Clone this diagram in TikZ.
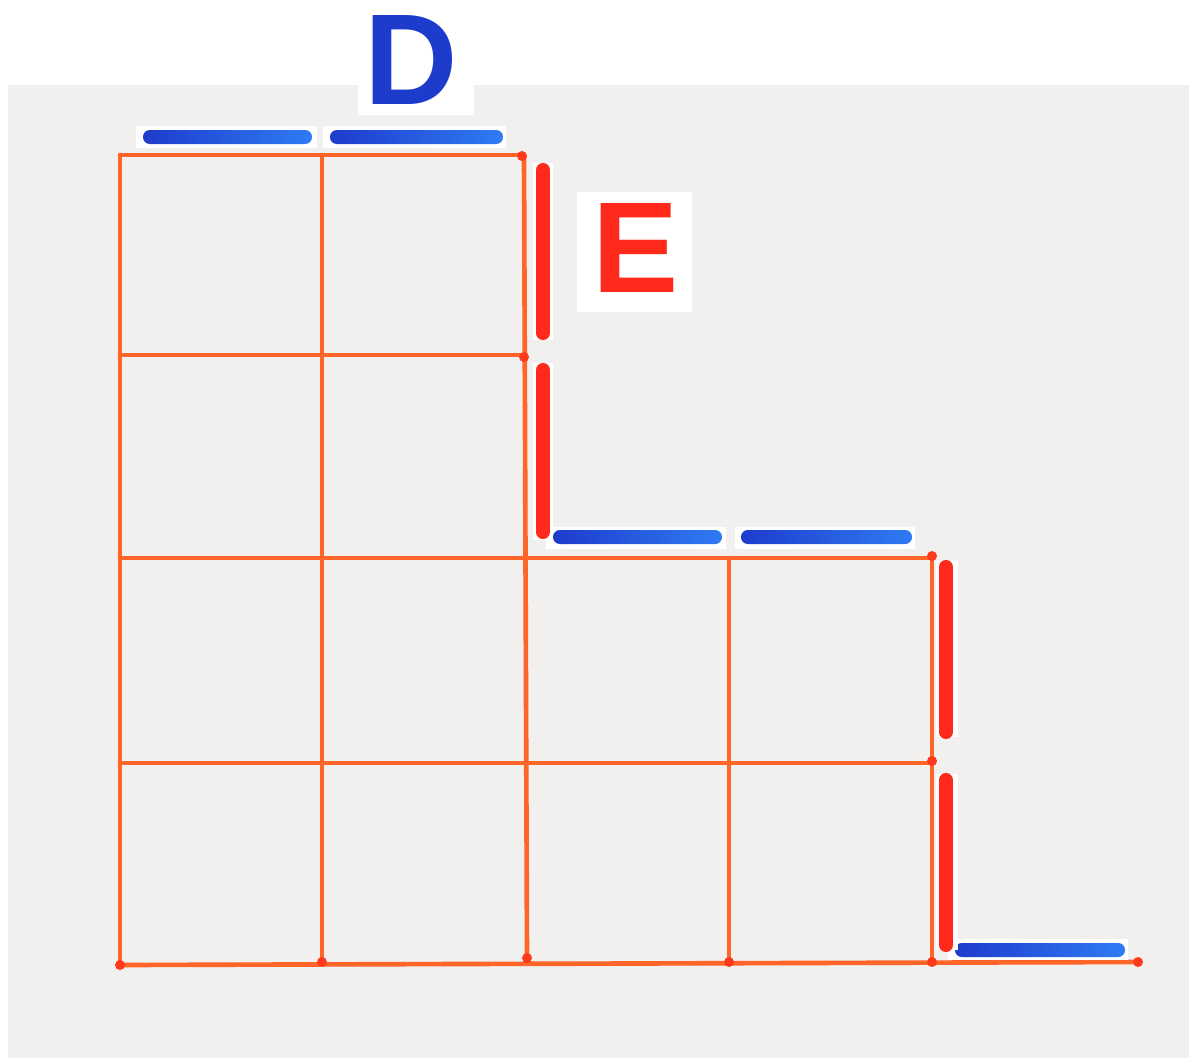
\documentclass[tikz,border=0pt]{standalone}
\usepackage{fontspec}
\setsansfont{Liberation Sans}
\usetikzlibrary{positioning}

\definecolor{paper}{HTML}{F1F0EE}
\definecolor{gridorange}{HTML}{FF6428}
\definecolor{dotred}{HTML}{FF3A1A}
\definecolor{markblue}{HTML}{1E3CCB}
\definecolor{markbluelight}{HTML}{2F7BF5}
\definecolor{markred}{HTML}{FF2A1C}

\tikzset{
  gridline/.style={gridorange, line width=3.3pt, line cap=round},
  bluebar/.style={left color=markblue, right color=markbluelight, rounded corners=1.7mm},
  redbar/.style={markred, line width=10pt, line cap=round},
  patch/.style={fill=white, draw=none},
  letter/.style={font=\sffamily\bfseries\fontsize{92}{92}\selectfont, inner sep=0pt}
}

\begin{document}
\begin{tikzpicture}[x=0.025cm, y=-0.025cm]
  \useasboundingbox (0,0) rectangle (1189,1061);
  \fill[white] (0,0) rectangle (1189,1061);
  \fill[paper] (8,85) rectangle (1189,1058);

  % grid
  \draw[gridline] (120,155) -- (522,155);
  \draw[gridline] (120,355) -- (525,355);
  \draw[gridline] (120,558) -- (932,558);
  \draw[gridline] (120,763) -- (932,763);
  \draw[gridline] (120,965) -- (1138,962);
  \draw[gridline] (120,155) -- (120,965);
  \draw[gridline] (322,155) -- (322,963);
  \draw[gridline] (524,155) -- (527,960);
  \draw[gridline] (729,558) -- (729,963);
  \draw[gridline] (932,558) -- (932,963);
  \foreach \x/\y in {522/156, 524/357, 932/556, 932/761, 932/962, 1138/962, 322/962, 527/958, 729/962, 120/965}
    \fill[dotred] (\x,\y) circle (5);

  % blue segments
  \fill[patch] (136,126) rectangle (317,148);
  \fill[patch] (323,126) rectangle (506,148);
  \shade[bluebar] (143,130) rectangle (312,144);
  \shade[bluebar] (330,130) rectangle (503,144);
  \fill[patch] (546,527) rectangle (726,549);
  \fill[patch] (735,527) rectangle (915,549);
  \shade[bluebar] (553,530) rectangle (722,544);
  \shade[bluebar] (741,530) rectangle (912,544);
  \fill[patch] (948,939) rectangle (1128,960);
  \shade[bluebar] (955,943) rectangle (1125,957);

  % red segments
  \fill[patch] (533,163) rectangle (553,340);
  \fill[patch] (533,363) rectangle (553,540);
  \draw[redbar] (543,170) -- (543,333);
  \draw[redbar] (543,370) -- (543,532);
  \fill[patch] (936,560) rectangle (958,737);
  \fill[patch] (936,774) rectangle (958,950);
  \draw[redbar] (946,567) -- (946,732);
  \draw[redbar] (946,780) -- (946,945);

  % labels
  \fill[patch] (358,0) rectangle (474,115);
  \node[letter, markblue] (D) at (411,60) {D};
  \fill[patch] (577,192) rectangle (692,312);
  \node[letter, markred] (E) at (636,248) {E};
\end{tikzpicture}
\end{document}
